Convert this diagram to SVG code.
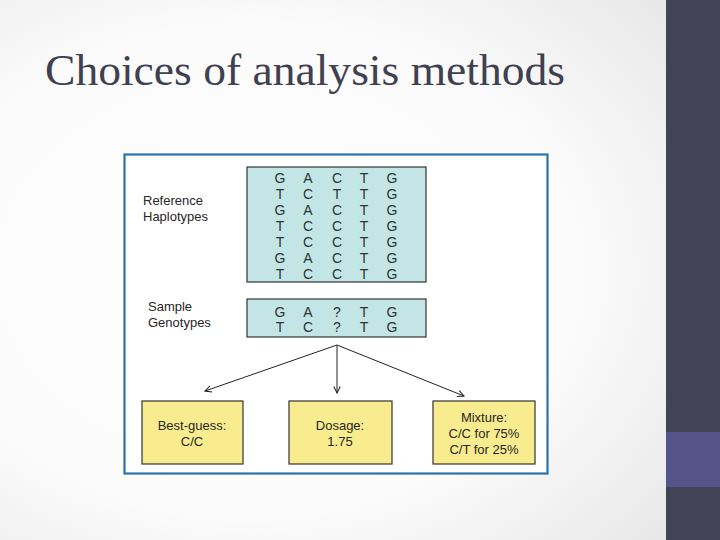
<svg xmlns="http://www.w3.org/2000/svg" width="720" height="540" viewBox="0 0 720 540">
<defs>
<radialGradient id="bg" cx="0.35" cy="0.5" r="0.75">
<stop offset="0" stop-color="#ffffff"/>
<stop offset="0.6" stop-color="#fbfbfb"/>
<stop offset="1" stop-color="#e8e8e8"/>
</radialGradient>
<marker id="ah" viewBox="0 0 10 10" refX="9" refY="5" markerWidth="8" markerHeight="8" orient="auto" markerUnits="userSpaceOnUse">
<path d="M1,1 L9,5 L1,9" fill="none" stroke="#222" stroke-width="1.3"/>
</marker>
<style>
.t{font-family:"Liberation Sans",Arial,sans-serif;font-size:13px;fill:#262626;}
.c{text-anchor:middle;}
.g{font-family:"Liberation Sans",Arial,sans-serif;font-size:14px;fill:#2a3434;text-anchor:middle;}
.cyan{fill:#c4e5e6;stroke:#333;stroke-width:1.2;}
.yel{fill:#f9ec8f;stroke:#333;stroke-width:1.2;}
.con{stroke:#222;stroke-width:1;fill:none;marker-end:url(#ah);}
</style>
</defs>
<rect width="720" height="540" fill="url(#bg)"/>
<rect x="666" y="0" width="54" height="540" fill="#424456"/>
<rect x="666" y="432" width="54" height="55" fill="#555488"/>
<text x="45" y="85" font-family="Liberation Serif,serif" font-size="45" fill="#3f4050" textLength="520" lengthAdjust="spacingAndGlyphs">Choices of analysis methods</text>
<rect x="124.5" y="154.5" width="423" height="319" fill="#ffffff" stroke="#2b72a8" stroke-width="2.2"/>
<g id="reference">
<text class="t" x="143" y="205">Reference</text>
<text class="t" x="143" y="221">Haplotypes</text>
<rect class="cyan" x="247" y="167" width="179" height="115"/>
<g class="g">
<text x="280" y="183">G</text><text x="308" y="183">A</text><text x="337" y="183">C</text><text x="364" y="183">T</text><text x="392" y="183">G</text>
<text x="280" y="198.5">T</text><text x="308" y="198.5">C</text><text x="337" y="198.5">T</text><text x="364" y="198.5">T</text><text x="392" y="198.5">G</text>
<text x="280" y="215">G</text><text x="308" y="215">A</text><text x="337" y="215">C</text><text x="364" y="215">T</text><text x="392" y="215">G</text>
<text x="280" y="231">T</text><text x="308" y="231">C</text><text x="337" y="231">C</text><text x="364" y="231">T</text><text x="392" y="231">G</text>
<text x="280" y="247">T</text><text x="308" y="247">C</text><text x="337" y="247">C</text><text x="364" y="247">T</text><text x="392" y="247">G</text>
<text x="280" y="263">G</text><text x="308" y="263">A</text><text x="337" y="263">C</text><text x="364" y="263">T</text><text x="392" y="263">G</text>
<text x="280" y="279">T</text><text x="308" y="279">C</text><text x="337" y="279">C</text><text x="364" y="279">T</text><text x="392" y="279">G</text>
</g>
</g>
<g id="sample">
<text class="t" x="148" y="311">Sample</text>
<text class="t" x="148" y="327">Genotypes</text>
<rect class="cyan" x="247" y="299" width="179" height="38"/>
<g class="g">
<text x="280" y="317">G</text><text x="308" y="317">A</text><text x="337" y="317">?</text><text x="364" y="317">T</text><text x="392" y="317">G</text>
<text x="280" y="332">T</text><text x="308" y="332">C</text><text x="337" y="332">?</text><text x="364" y="332">T</text><text x="392" y="332">G</text>
</g>
</g>
<g id="connectors">
<line class="con" x1="337" y1="345" x2="205" y2="391"/>
<line class="con" x1="337" y1="345" x2="337" y2="393" stroke="#666"/>
<line class="con" x1="337" y1="345" x2="464" y2="396"/>
</g>
<g id="bestguess">
<rect class="yel" x="142" y="401" width="101" height="63"/>
<text class="t c" x="192" y="430">Best-guess:</text>
<text class="t c" x="192" y="446">C/C</text>
</g>
<g id="dosage">
<rect class="yel" x="289" y="401" width="103" height="63"/>
<text class="t c" x="340" y="430">Dosage:</text>
<text class="t c" x="340" y="446">1.75</text>
</g>
<g id="mixture">
<rect class="yel" x="433" y="401" width="102" height="63"/>
<text class="t c" x="484" y="422">Mixture:</text>
<text class="t c" x="484" y="438">C/C for 75%</text>
<text class="t c" x="484" y="454">C/T for 25%</text>
</g>
</svg>
